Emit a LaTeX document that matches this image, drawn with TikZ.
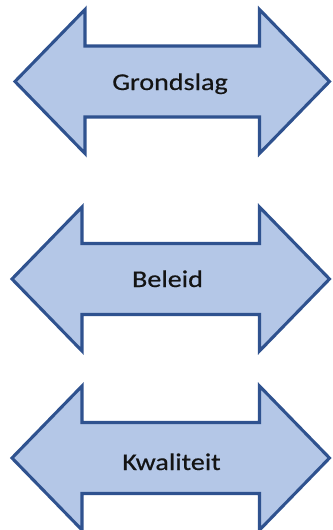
\documentclass[tikz,border=0pt]{standalone}
\usepackage{fontspec}
\setmainfont{Carlito}
\newfontfamily\labelfont[FakeBold=0.5]{Carlito}
\definecolor{arrowfill}{HTML}{B4C7E7}
\definecolor{arrowline}{HTML}{2F528F}
\definecolor{labelink}{HTML}{141414}
\tikzset{
  twowayshape/.style={fill=arrowfill, draw=arrowline, line width=3.1pt, line join=miter},
  twowaylabel/.style={anchor=base, inner sep=0pt, text=labelink,
    font=\labelfont\fontsize{24}{28}\selectfont}
}
% double-headed block arrow: left tip x, right tip x, centre y
\newcommand\twowayarrow[3]{%
  \draw[twowayshape]
    (#1,#3) -- (#1+70,#3-72) -- (#1+70,#3-35.5) -- (#2-70,#3-35.5)
    -- (#2-70,#3-72) -- (#2,#3) -- (#2-70,#3+72) -- (#2-70,#3+35.5)
    -- (#1+70,#3+35.5) -- (#1+70,#3+72) -- cycle;}
\begin{document}
\begin{tikzpicture}[x=1pt, y=-1pt]
  \useasboundingbox (0,0) rectangle (332,530);
  \twowayarrow{15}{329.5}{81.5}
  \twowayarrow{12}{329.5}{279}
  \twowayarrow{12}{329.5}{458}
  \node[twowaylabel] (grondslag) at (170,90) {\scalebox{1.17}[1]{Grondslag}};
  \node[twowaylabel] (beleid) at (167.5,287) {\scalebox{1.17}[1]{Beleid}};
  \node[twowaylabel] (kwaliteit) at (171.5,470) {\scalebox{1.17}[1]{Kwaliteit}};
\end{tikzpicture}
\end{document}
